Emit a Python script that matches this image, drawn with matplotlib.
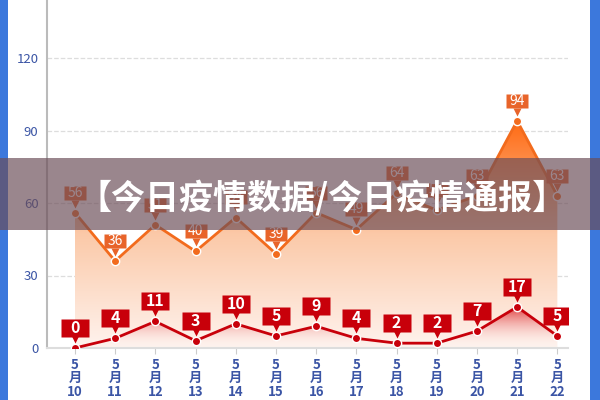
import numpy as np
import matplotlib
matplotlib.use("Agg")
import matplotlib.pyplot as plt
from matplotlib.colors import LinearSegmentedColormap
from matplotlib.patches import Rectangle
from matplotlib.path import Path
from matplotlib.transforms import ScaledTranslation

plt.rcParams['font.family'] = ['Noto Sans CJK SC', 'DejaVu Sans']

days = ['10', '11', '12', '13', '14', '15', '16', '17', '18', '19', '20', '21', '22']
upper = [56, 36, 51, 40, 54, 39, 56, 49, 64, 57, 63, 94, 63]
lower = [0, 4, 11, 3, 10, 5, 9, 4, 2, 2, 7, 17, 5]
yticks = [0, 30, 60, 90, 120]
title = '【今日疫情数据/今日疫情通报】'

c_orange = '#f26b1d'
c_label_o = '#e8642a'
c_red = '#c8000a'
c_tick = '#3b55a5'

fig = plt.figure(figsize=(6, 4), dpi=100)
ax = fig.add_axes([0.078, 0.13, 0.869, 0.87])
x = np.arange(len(days))

# gradient fills under the lines
def grad_fill(xs, ys, cmap, alpha, z):
    poly = ax.fill_between(xs, 0, ys, color='none', zorder=z)
    grad = np.linspace(0, 1, 256).reshape(-1, 1)
    im = ax.imshow(grad, cmap=cmap, origin='lower', aspect='auto',
                   extent=[xs[0], xs[-1], 0, max(ys)], alpha=alpha, zorder=z,
                   interpolation='bicubic')
    im.set_clip_path(poly.get_paths()[0], transform=ax.transData)

cm_o = LinearSegmentedColormap.from_list('o', ['#fff3ee', '#fbc9a8', '#ff6a12'])
cm_r = LinearSegmentedColormap.from_list('r', [(1, 1, 1, 0), (0.85, 0.1, 0.12, 1)])
grad_fill(x, upper, cm_o, 1.0, 1)
grad_fill(x, lower, cm_r, 0.85, 2)
ax.set_xlim(-0.7, 12.27)
ax.set_ylim(0, 144)

ax.plot(x, upper, color=c_orange, lw=2, zorder=3)
ax.plot(x, upper, 'o', ms=6, mfc=c_orange, mec='white', mew=1, zorder=4)
ax.plot(x, lower, color=c_red, lw=2, zorder=3)
ax.plot(x, lower, 'o', ms=6, mfc=c_red, mec='white', mew=1, zorder=4)

box = Path([(-1, -0.66), (1, -0.66), (1, 0.66), (-1, 0.66), (-1, -0.66)])

def labels(vals, col, bw, fs, weight):
    up = ScaledTranslation(0, 14.5 / 72, fig.dpi_scale_trans)
    tip = ScaledTranslation(0, 6.5 / 72, fig.dpi_scale_trans)
    ax.plot(x, vals, ls='none', marker=box, ms=bw, color=col, mec='none',
            zorder=5, transform=ax.transData + up)
    ax.plot(x, vals, ls='none', marker='v', ms=6, color=col, mec='none',
            zorder=5, transform=ax.transData + tip)
    for xi, v in zip(x, vals):
        ax.annotate(str(v), (xi, v), xytext=(0, 14.5), textcoords='offset points',
                    ha='center', va='center', color='white', fontsize=fs,
                    fontweight=weight, zorder=6)

labels(upper, c_label_o, 16, 10, 'normal')
labels(lower, c_red, 19.5, 11.5, 'bold')

ax.set_yticks(yticks)
ax.set_yticklabels([str(t) for t in yticks], color=c_tick, fontsize=9.5)
ax.set_xticks(x)
ax.set_xticklabels(['5\n月\n' + d for d in days], color=c_tick, fontsize=9.5,
                   fontweight='bold', linespacing=0.95)
ax.tick_params(axis='y', length=0, pad=6)
ax.tick_params(axis='x', length=4, color='#cccccc', pad=3)
ax.grid(axis='y', color='#dddddd', ls='--', lw=0.9)
ax.set_axisbelow(True)
for s in ['top', 'right']:
    ax.spines[s].set_visible(False)
ax.spines['left'].set_color('#bbbbbb')
ax.spines['left'].set_linewidth(1.5)
ax.spines['bottom'].set_color('#dddddd')
ax.spines['bottom'].set_linewidth(1.5)

# side bars and banner
fig.patches.append(Rectangle((0, 0), 8 / 600, 1, transform=fig.transFigure,
                             fc='#3c78dc', ec='none', zorder=10))
fig.patches.append(Rectangle((590 / 600, 0), 10 / 600, 1, transform=fig.transFigure,
                             fc='#3c78dc', ec='none', zorder=10))
fig.patches.append(Rectangle((0, 1 - 230 / 400), 1, 72 / 400, transform=fig.transFigure,
                             fc=(0.42, 0.3, 0.34), alpha=0.68, ec='none', zorder=11))
fig.text(0.537, 1 - 198 / 400, title, color='white', fontsize=24.5, fontweight='heavy',
         ha='center', va='center', zorder=12)

fig.savefig('out.png', dpi=100)
